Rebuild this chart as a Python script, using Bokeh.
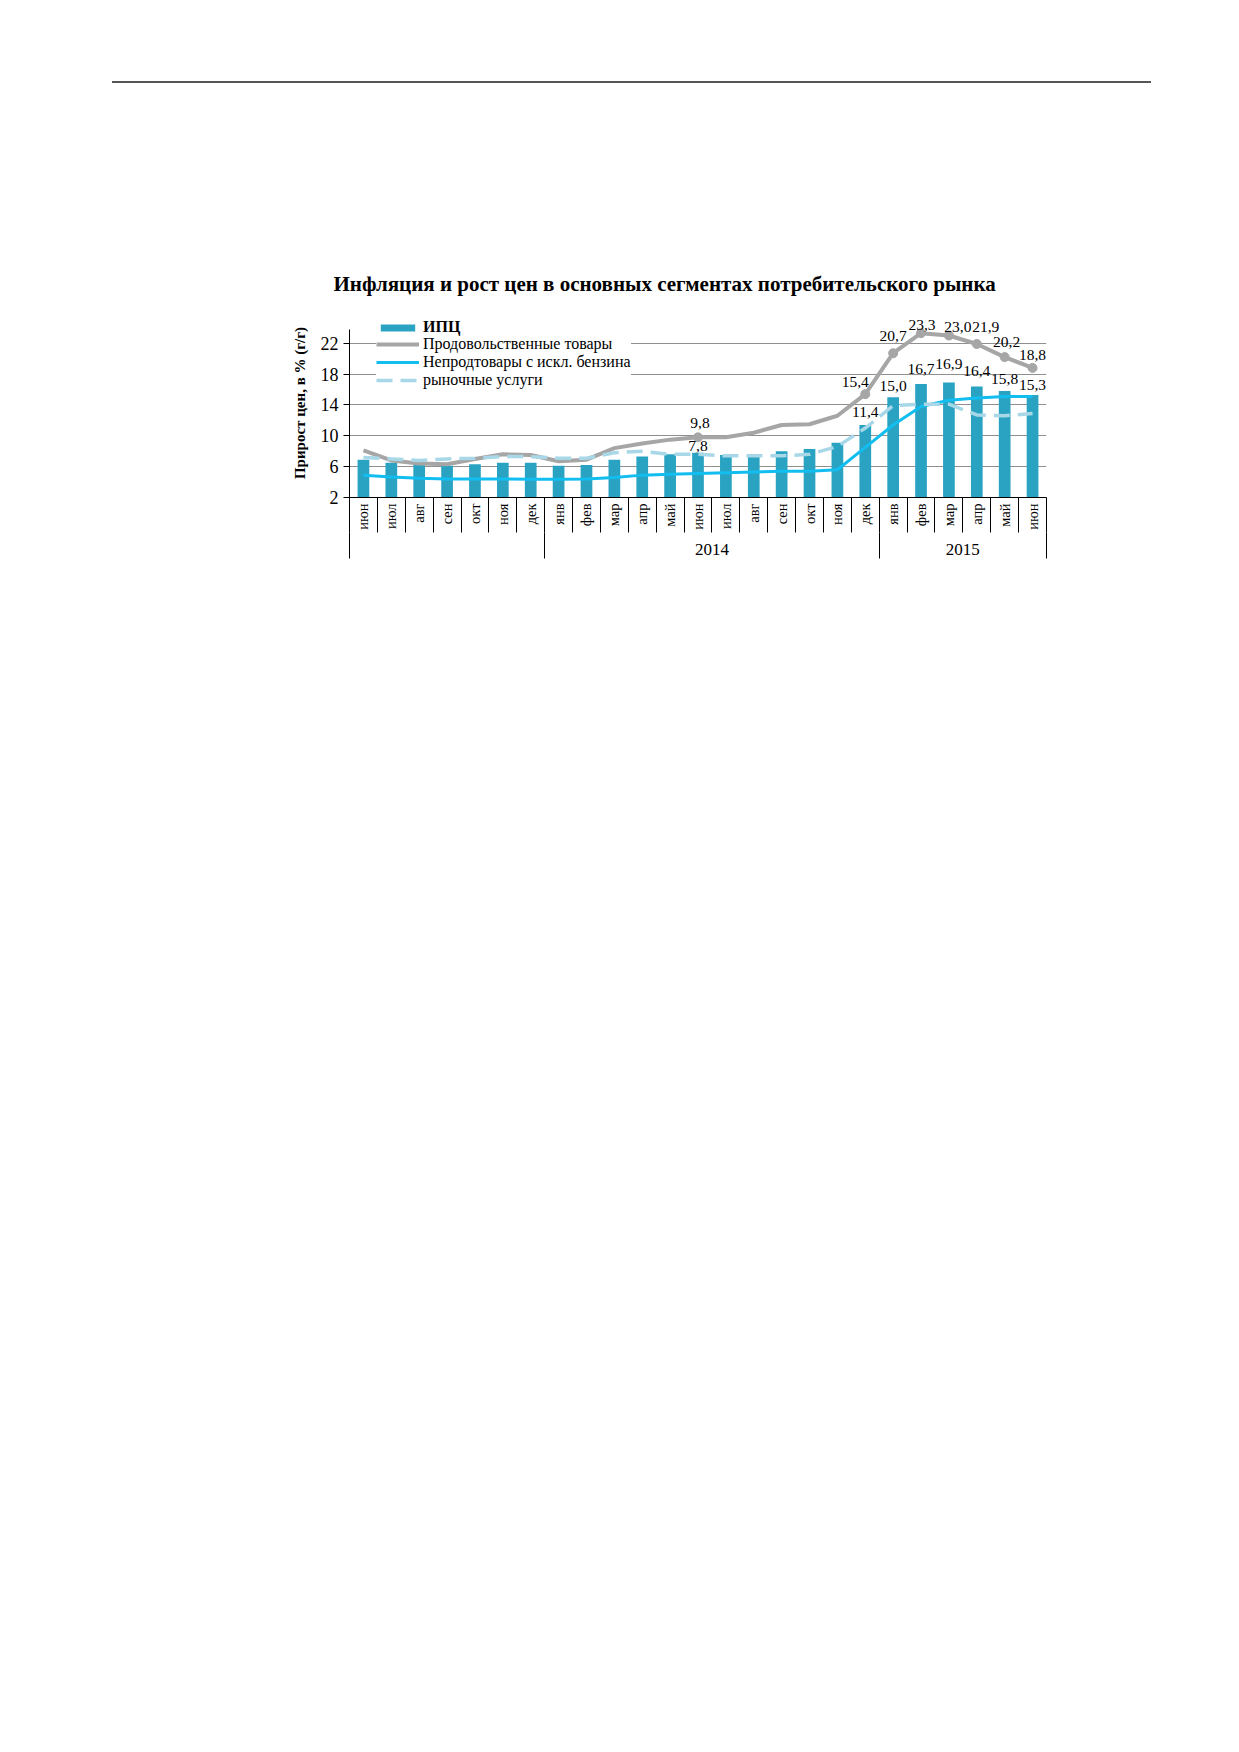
import numpy as np
from bokeh.plotting import figure
from bokeh.models import (ColumnDataSource, Range1d, LinearAxis, FixedTicker,
                          Legend, LegendItem, LabelSet, Div)
from bokeh.layouts import column
from bokeh.embed import file_html
from bokeh.resources import INLINE

# ---------------- data ----------------
months = ["июн", "июл", "авг", "сен", "окт", "ноя", "дек",
          "янв", "фев", "мар", "апр", "май", "июн", "июл", "авг", "сен", "окт", "ноя", "дек",
          "янв", "фев", "мар", "апр", "май", "июн"]
year_labels = ["", "2014", "2015"]
year_sizes = [7, 12, 6]

cpi = [6.9, 6.5, 6.5, 6.1, 6.3, 6.5, 6.5,
       6.1, 6.2, 6.9, 7.3, 7.6, 7.8, 7.5, 7.6, 8.0, 8.3, 9.1, 11.4,
       15.0, 16.7, 16.9, 16.4, 15.8, 15.3]
food = [8.1, 6.8, 6.4, 6.3, 7.0, 7.6, 7.5,
        6.7, 6.9, 8.4, 9.0, 9.5, 9.8, 9.8, 10.4, 11.4, 11.5, 12.6, 15.4,
        20.7, 23.3, 23.0, 21.9, 20.2, 18.8]
nonfood = [4.9, 4.65, 4.5, 4.4, 4.4, 4.4, 4.35,
           4.35, 4.4, 4.6, 4.9, 5.0, 5.1, 5.2, 5.3, 5.4, 5.4, 5.6, 8.5,
           11.4, 13.8, 14.6, 14.9, 15.1, 15.1]
services = [7.2, 7.0, 6.8, 7.0, 7.1, 7.3, 7.3,
            7.1, 7.1, 7.8, 8.0, 7.6, 7.6, 7.4, 7.4, 7.4, 7.6, 8.6, 11.0,
            13.9, 14.1, 14.1, 12.7, 12.6, 12.9]
labeled = [12, 18, 19, 20, 21, 22, 23, 24]
y_ticks = [2, 6, 10, 14, 18, 22]

TITLE = "Инфляция и рост цен в основных сегментах потребительского рынка"
YLABEL = "Прирост цен, в % (г/г)"
SERIF = "Liberation Serif"

# label placement (screen px, style only)
cpi_lab_dy = [7, 13, 11, 15, 19, 15, 12, 10]
food_lab_dx = [2, -10, 0, 1, 9, 9, 2, 0]
food_lab_dy = [14, 12, 17, 8, 9, 17, 15, 13]


def fmt(v):
    return f"{v:.1f}".replace(".", ",")


n = len(months)
xc = np.arange(n) + 0.5
src = ColumnDataSource(dict(x=xc, cpi=cpi, food=food, nonfood=nonfood, services=services))
lab = ColumnDataSource(dict(
    x=[float(xc[i]) for i in labeled],
    cpi=[cpi[i] for i in labeled],
    food=[food[i] for i in labeled],
    cpi_t=[fmt(cpi[i]) for i in labeled],
    food_t=[fmt(food[i]) for i in labeled],
    cdy=cpi_lab_dy, fdx=food_lab_dx, fdy=food_lab_dy,
))

p = figure(width=1223, height=346, x_range=Range1d(0, n), y_range=Range1d(2, 26.5),
           x_axis_type=None, output_backend="svg", toolbar_location=None,
           min_border_left=349, min_border_right=177, min_border_top=67, min_border_bottom=90)
p.outline_line_color = None
p.background_fill_color = "white"

# title
p.title.text = TITLE
p.title.text_font = SERIF
p.title.text_font_size = "21px"
p.title.text_font_style = "bold"
p.title.text_color = "black"
p.title.align = "left"
p.title.offset = -16
p.title.standoff = 26

# y axis
yax = p.yaxis[0]
yax.ticker = FixedTicker(ticks=y_ticks)
yax.bounds = (2, 23.8)
yax.major_tick_out = 6
yax.major_tick_in = 0
yax.minor_tick_out = 0
yax.minor_tick_in = 0
yax.axis_line_color = "black"
yax.major_tick_line_color = "black"
yax.major_label_text_font = SERIF
yax.major_label_text_font_size = "18px"
yax.major_label_text_color = "black"
yax.major_label_standoff = 5
yax.axis_label = YLABEL
yax.axis_label_text_font = SERIF
yax.axis_label_text_font_size = "15px"
yax.axis_label_text_font_style = "bold"
yax.axis_label_text_color = "black"
yax.axis_label_standoff = 10

p.ygrid.grid_line_color = "#8f8f8f"
p.ygrid.grid_line_width = 1

# month axis (labels + separators)
bounds = [float(b) for b in range(n + 1)]
ax_m = LinearAxis(ticker=FixedTicker(ticks=[float(c) for c in xc], minor_ticks=bounds),
                  major_label_overrides={float(c): m for c, m in zip(xc, months)})
ax_m.major_label_orientation = np.pi / 2
ax_m.major_tick_out = 0
ax_m.major_tick_in = 0
ax_m.major_tick_line_color = None
ax_m.minor_tick_out = 35
ax_m.minor_tick_in = 0
ax_m.minor_tick_line_color = "black"
ax_m.minor_tick_line_width = 1
ax_m.axis_line_color = "black"
ax_m.major_label_text_font = SERIF
ax_m.major_label_text_font_size = "14.5px"
ax_m.major_label_text_color = "black"
ax_m.major_label_standoff = -29
p.add_layout(ax_m, "below")

# year axis
edges = np.concatenate([[0], np.cumsum(year_sizes)])
ycent = (edges[:-1] + edges[1:]) / 2
ax_y = LinearAxis(ticker=FixedTicker(ticks=[float(c) for c in ycent],
                                     minor_ticks=[float(e) for e in edges]),
                  major_label_overrides={float(c): t for c, t in zip(ycent, year_labels)})
ax_y.major_tick_out = 0
ax_y.major_tick_in = 0
ax_y.major_tick_line_color = None
ax_y.minor_tick_out = 26
ax_y.minor_tick_in = 0
ax_y.minor_tick_line_color = "black"
ax_y.minor_tick_line_width = 1
ax_y.axis_line_color = None
ax_y.major_label_text_font = SERIF
ax_y.major_label_text_font_size = "17px"
ax_y.major_label_text_color = "black"
ax_y.major_label_standoff = -15
p.add_layout(ax_y, "below")

# glyphs
r_bar = p.vbar(x="x", top="cpi", bottom=2, width=0.42, source=src,
               fill_color="#2aa3c3", line_color=None)
r_food = p.line("x", "food", source=src, line_color="#a6a6a6", line_width=4)
r_non = p.line("x", "nonfood", source=src, line_color="#12bdf0", line_width=3)
r_srv = p.line("x", "services", source=src, line_color="#a8d8e8", line_width=3.5,
               line_dash="16 8")
p.scatter("x", "food", source=lab, size=9, marker="circle",
          fill_color="#a6a6a6", line_color="#a6a6a6")

# data labels
p.add_layout(LabelSet(x="x", y="cpi", text="cpi_t", source=lab, text_align="center",
                      text_baseline="middle", y_offset="cdy", text_font=SERIF,
                      text_font_size="15.5px", text_color="black"))
p.add_layout(LabelSet(x="x", y="food", text="food_t", source=lab, text_align="center",
                      text_baseline="middle", x_offset="fdx", y_offset="fdy", text_font=SERIF,
                      text_font_size="15.5px", text_color="black"))

# legends
leg2 = Legend(items=[LegendItem(label="Продовольственные товары", renderers=[r_food]),
                     LegendItem(label="Непродтовары с искл. бензина", renderers=[r_non]),
                     LegendItem(label="рыночные услуги", renderers=[r_srv])],
              location=(27, 108), glyph_width=43, glyph_height=18, label_height=18,
              spacing=0, padding=8, margin=0, label_standoff=4,
              border_line_color=None, background_fill_color="white", background_fill_alpha=1,
              label_text_font=SERIF, label_text_font_size="16px", label_text_color="black")
leg1 = Legend(items=[LegendItem(label="ИПЦ", renderers=[r_bar])],
              location=(27, 161), glyph_width=43, glyph_height=9, label_height=9,
              spacing=0, padding=8, margin=0, label_standoff=4,
              border_line_color=None, background_fill_alpha=0,
              label_text_font=SERIF, label_text_font_size="16px", label_text_color="black",
              label_text_font_style="bold")
p.add_layout(leg2)
p.add_layout(leg1)

header = Div(text='<div style="margin-left:107px;margin-top:76px;width:1039px;'
                  'border-top:2px solid #555555;"></div>', width=1223, height=231)

layout = column(header, p)
open("out.html", "w").write(file_html(layout, INLINE))
